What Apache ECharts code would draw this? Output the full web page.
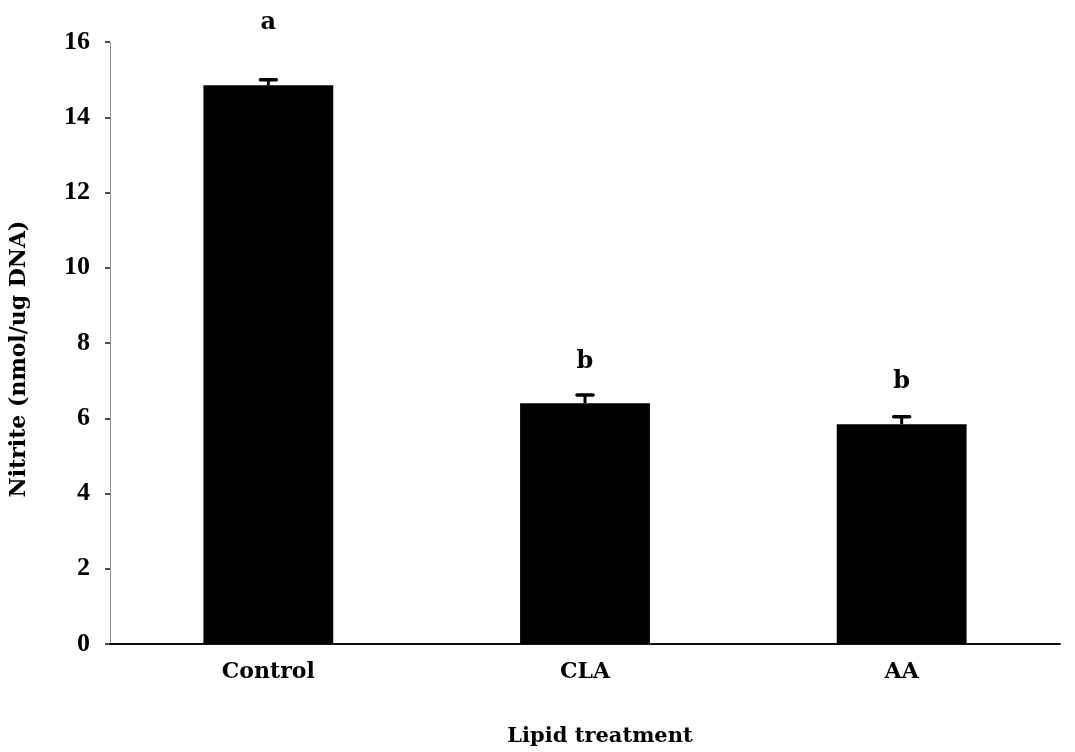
<!DOCTYPE html>
<html>
<head>
<meta charset="utf-8">
<script src="https://cdn.jsdelivr.net/npm/echarts@6/dist/echarts.min.js"></script>
<style>html,body{margin:0;padding:0;background:#fff;}#c{width:1075px;height:752px;}</style>
</head>
<body>
<div id="c"></div>
<script>
const categories = ['Control', 'CLA', 'AA'];
const means = [14.85, 6.4, 5.84];
const errors = [0.15, 0.22, 0.2];
const letters = ['a', 'b', 'b'];
const letterLevels = [16.52, 7.5, 6.98];
const yTickLabels = ['0', '2', '4', '6', '8', '10', '12', '14', '16'];

const textFont = 'DejaVu Serif';
const chart = echarts.init(document.getElementById('c'));
chart.setOption({
  animation: false,
  backgroundColor: '#fff',
  grid: { left: 105, right: 15, top: 42, bottom: 105 },
  xAxis: {
    type: 'category',
    data: categories,
    name: 'Lipid treatment',
    nameLocation: 'middle',
    nameGap: 82,
    nameTextStyle: { fontFamily: textFont, fontWeight: 'bold', fontSize: 21, color: '#000', padding: [0, 0, 0, 30] },
    axisLine: { lineStyle: { color: '#111', width: 2 } },
    axisTick: { show: false },
    axisLabel: { margin: 17, fontFamily: textFont, fontWeight: 'bold', fontSize: 22, color: '#000' }
  },
  yAxis: {
    type: 'value',
    min: 0, max: 16, interval: 2,
    name: 'Nitrite (nmol/ug DNA)',
    nameLocation: 'middle',
    nameGap: 80,
    nameRotate: 90,
    nameTextStyle: { fontFamily: textFont, fontWeight: 'bold', fontSize: 22, color: '#000', padding: [0, 32, 0, 0] },
    axisLine: { show: true, lineStyle: { color: '#777', width: 1, type: 'dotted' } },
    axisTick: { show: true, length: 5, lineStyle: { color: '#111', width: 1.5 } },
    splitLine: { show: false },
    axisLabel: {
      margin: 20, fontFamily: 'Liberation Serif', fontWeight: 'bold', fontSize: 26, color: '#000',
      formatter: (v) => yTickLabels[Math.round(v / 2)]
    }
  },
  series: [
    {
      type: 'bar',
      data: means,
      barWidth: '41%',
      itemStyle: { color: '#000' }
    },
    {
      type: 'custom',
      clip: false,
      data: categories.map((c, i) => [i, means[i], errors[i]]),
      renderItem: function (params, api) {
        const i = api.value(0);
        const base = api.coord([i, api.value(1)]);
        const top = api.coord([i, api.value(1) + api.value(2)]);
        return {
          type: 'group',
          children: [
            { type: 'line', shape: { x1: base[0], y1: base[1], x2: top[0], y2: top[1] }, style: { stroke: '#000', lineWidth: 3 } },
            { type: 'line', shape: { x1: top[0] - 8, y1: top[1], x2: top[0] + 8, y2: top[1] }, style: { stroke: '#000', lineWidth: 3.5, lineCap: 'round' } }
          ]
        };
      },
      z: 3
    },
    {
      type: 'custom',
      clip: false,
      data: categories.map((c, i) => [i, letterLevels[i]]),
      renderItem: function (params, api) {
        const p = api.coord([api.value(0), api.value(1)]);
        return {
          type: 'text',
          style: {
            x: p[0], y: p[1], text: letters[params.dataIndex],
            fontFamily: textFont, fontWeight: 'bold', fontSize: 24, fill: '#000',
            align: 'center', verticalAlign: 'middle'
          }
        };
      },
      z: 4
    }
  ]
});
</script>
</body>
</html>
